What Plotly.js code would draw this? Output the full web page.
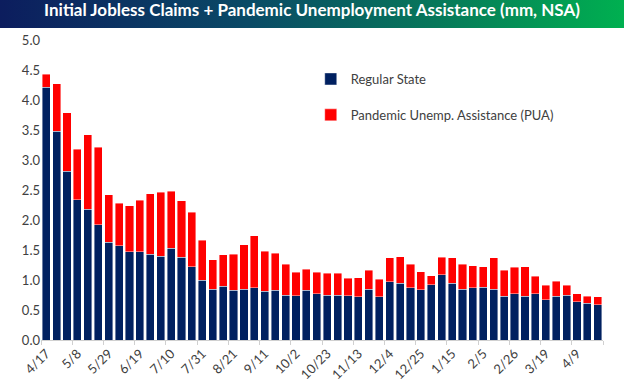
<!DOCTYPE html>
<html>
<head>
<meta charset="utf-8">
<script src="https://cdn.plot.ly/plotly-3.0.1.min.js"></script>
<style>
  html, body { margin: 0; padding: 0; background: #ffffff; }
  #wrap { position: relative; width: 624px; height: 390px; }
  #band { position: absolute; left: 0; top: 0; width: 624px; height: 28px;
          background: linear-gradient(to right, #0c1d5e 0%, #0a4a66 40%, #07785a 70%, #00b050 100%); }
  #chart { position: absolute; left: 0; top: 0; width: 624px; height: 390px; }
</style>
</head>
<body>
<div id="wrap">
  <div id="band"></div>
  <div id="chart"></div>
</div>
<script>
const weeks = ["4/17","4/24","5/1","5/8","5/15","5/22","5/29","6/5","6/12","6/19","6/26","7/3","7/10","7/17","7/24","7/31","8/7","8/14","8/21","8/28","9/4","9/11","9/18","9/25","10/2","10/9","10/16","10/23","10/30","11/6","11/13","11/20","11/27","12/4","12/11","12/18","12/25","1/1","1/8","1/15","1/22","1/29","2/5","2/12","2/19","2/26","3/5","3/12","3/19","3/26","4/2","4/9","4/16","4/23"];

const regularState = [4.21,3.48,2.81,2.34,2.18,1.92,1.63,1.57,1.47,1.47,1.43,1.40,1.53,1.38,1.22,1.00,0.85,0.90,0.83,0.85,0.87,0.81,0.83,0.75,0.74,0.83,0.77,0.75,0.75,0.74,0.72,0.85,0.72,0.97,0.95,0.87,0.84,0.92,1.09,0.95,0.85,0.87,0.88,0.85,0.73,0.77,0.73,0.77,0.67,0.73,0.75,0.64,0.61,0.59];

const pua = [0.22,0.79,0.98,0.84,1.24,1.29,0.79,0.71,0.77,0.86,1.01,1.06,0.95,0.94,0.91,0.66,0.49,0.52,0.60,0.74,0.87,0.67,0.62,0.51,0.39,0.35,0.36,0.36,0.36,0.29,0.32,0.31,0.29,0.40,0.44,0.39,0.30,0.15,0.29,0.42,0.41,0.37,0.34,0.52,0.43,0.44,0.49,0.29,0.24,0.25,0.16,0.13,0.12,0.13];

const seriesNames = ["Regular State", "Pandemic Unemp. Assistance (PUA)"];
const titleText = "Initial Jobless Claims + Pandemic Unemployment Assistance (mm, NSA)";

const txt = "#404040";
const traces = [
  { type: "bar", x: weeks, y: regularState, name: seriesNames[0], legendgroup: "a",
    marker: { color: "#002060", line: { color: "rgba(255,255,255,0.7)", width: 0.6 } } },
  { type: "bar", x: weeks, y: pua, name: seriesNames[1], legendgroup: "b",
    marker: { color: "#ff0000", line: { color: "rgba(255,255,255,0.7)", width: 0.6 } } }
];

const layout = {
  width: 624, height: 390,
  paper_bgcolor: "rgba(0,0,0,0)",
  plot_bgcolor: "rgba(0,0,0,0)",
  margin: { l: 41, r: 21, t: 40, b: 50 },
  barmode: "stack",
  bargap: 0.22,
  title: { text: "<b>" + titleText + "</b>", x: 0.5, xanchor: "center", y: 1, yanchor: "top", yref: "container", pad: { t: 4 },
           font: { family: "Lato, 'Open Sans', sans-serif", size: 17, color: "#ffffff" } },
  font: { family: "Lato, 'Noto Sans', sans-serif", color: txt, size: 13 },
  showlegend: true,
  legend: { x: 0.48, xanchor: "left", y: 0.92, yanchor: "top", traceorder: "grouped", tracegroupgap: 16,
            bgcolor: "rgba(0,0,0,0)", font: { size: 13, color: txt } },
  xaxis: {
    type: "category", tickmode: "linear", tick0: 0, dtick: 3, tickson: "boundaries",
    tickangle: -45, ticks: "outside", ticklen: 4, tickcolor: "#d0d0d0",
    showline: true, linecolor: "#d0d0d0", linewidth: 1, showgrid: false,
    tickfont: { size: 13, color: txt }, range: [-0.5, 53.5]
  },
  yaxis: {
    range: [0, 5], dtick: 0.5, tick0: 0, tickformat: ".1f", showgrid: false, zeroline: false,
    showline: false, ticks: "", tickfont: { size: 13, color: txt }
  }
};

Plotly.newPlot("chart", traces, layout, { displayModeBar: false, staticPlot: true });
</script>
</body>
</html>
